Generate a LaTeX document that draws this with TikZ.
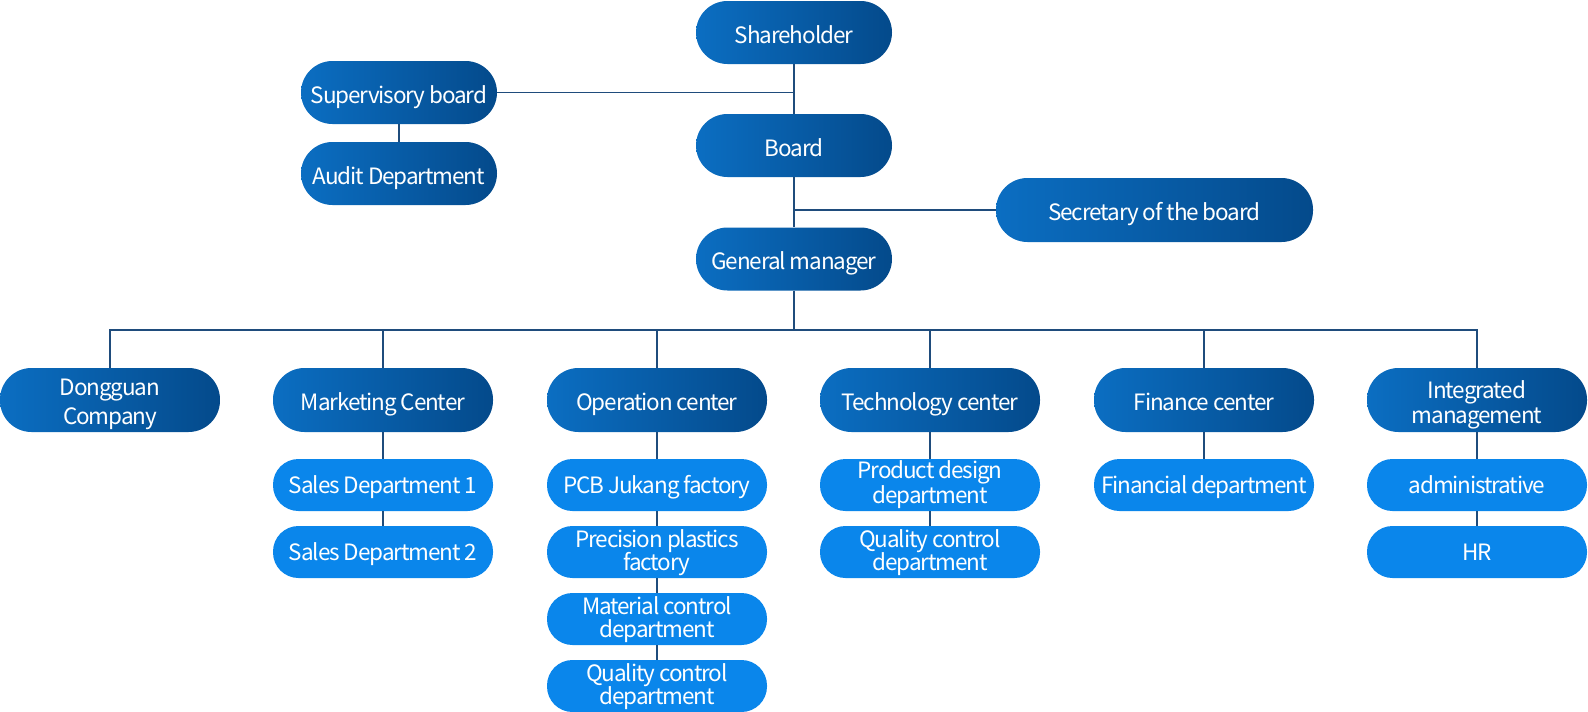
\documentclass[tikz,border=0pt]{standalone}
\usepackage{fontspec}
\setmainfont{Noto Sans CJK SC}[LetterSpace=-5]
\definecolor{dkL}{HTML}{0B6EC2}
\definecolor{dkR}{HTML}{044A8B}
\definecolor{lt}{HTML}{0A86EB}
\definecolor{ln}{HTML}{1F4C7C}
\tikzset{
  dark/.style={rectangle, rounded corners=31.5pt, minimum width=220pt, minimum height=64pt,
    left color=dkL, right color=dkR, draw=none, text=white, align=center, inner sep=0pt,
    font=\fontsize{22.5}{24.5}\selectfont, text height=26pt, text depth=5pt},
  dark2/.style={dark, text height=50pt, text depth=4pt},
  top/.style={dark, minimum width=196pt, minimum height=63pt},
  light/.style={rectangle, rounded corners=25.5pt, minimum width=220pt, minimum height=52pt,
    fill=lt, draw=none, text=white, align=center, inner sep=0pt,
    font=\fontsize{22.5}{23.5}\selectfont, text height=22pt, text depth=5pt},
  light2/.style={light, text height=41pt, text depth=4pt},
  conn/.style={draw=ln, line width=1.2pt}
}
\begin{document}
\begin{tikzpicture}[x=1pt,y=-1pt]
\useasboundingbox (0,0) rectangle (1588,712);
% top levels
\node[top] (sh) at (794,32.5) {Shareholder};
\node[top] (sup) at (399,92.5) {Supervisory board};
\node[top] (aud) at (399,173.5) {Audit Department};
\node[top] (bd) at (794,145.5) {Board};
\node[top, minimum width=317pt, minimum height=64pt] (sec) at (1154.5,210) {Secretary of the board};
\node[top] (gm) at (794,259) {General manager};
% centers
\node[dark2, font=\fontsize{22.5}{29}\selectfont, text height=52.6pt] (c1) at (110,400) {Dongguan\\Company};
\node[dark] (c2) at (383,400) {Marketing Center};
\node[dark] (c3) at (657,400) {Operation center};
\node[dark] (c4) at (930,400) {Technology center};
\node[dark] (c5) at (1204,400) {Finance center};
\node[dark2] (c6) at (1477,400) {Integrated\\management};
% sub departments
\node[light] (s21) at (383,485) {Sales Department 1};
\node[light] (s22) at (383,552) {Sales Department 2};
\node[light] (s31) at (657,485) {PCB Jukang factory};
\node[light2] (s32) at (657,552) {Precision plastics\\factory};
\node[light2] (s33) at (657,619) {Material control\\department};
\node[light2] (s34) at (657,686) {Quality control\\department};
\node[light2] (s41) at (930,485) {Product design\\department};
\node[light2] (s42) at (930,552) {Quality control\\department};
\node[light] (s51) at (1204,485) {Financial department};
\node[light] (s61) at (1477,485) {administrative};
\node[light] (s62) at (1477,552) {HR};
% connectors
\draw[conn] (sh) -- (bd);
\draw[conn] (bd) -- (gm);
\draw[conn] (sup.east) -- (sup.east -| sh.south);
\draw[conn] (sup) -- (aud);
\draw[conn] (sec.west) -- (sec.west -| bd.south);
\coordinate (bus) at (794,330);
\draw[conn] (gm) -- (bus);
\draw[conn] (c1.north) |- (bus) -| (c6.north);
\draw[conn] (c2.north) -- (c2.north |- bus);
\draw[conn] (c3.north) -- (c3.north |- bus);
\draw[conn] (c4.north) -- (c4.north |- bus);
\draw[conn] (c5.north) -- (c5.north |- bus);
\draw[conn] (c2) -- (s21);
\draw[conn] (s21) -- (s22);
\draw[conn] (c3) -- (s31);
\draw[conn] (s31) -- (s32);
\draw[conn] (s32) -- (s33);
\draw[conn] (s33) -- (s34);
\draw[conn] (c4) -- (s41);
\draw[conn] (s41) -- (s42);
\draw[conn] (c5) -- (s51);
\draw[conn] (c6) -- (s61);
\draw[conn] (s61) -- (s62);
\end{tikzpicture}
\end{document}
